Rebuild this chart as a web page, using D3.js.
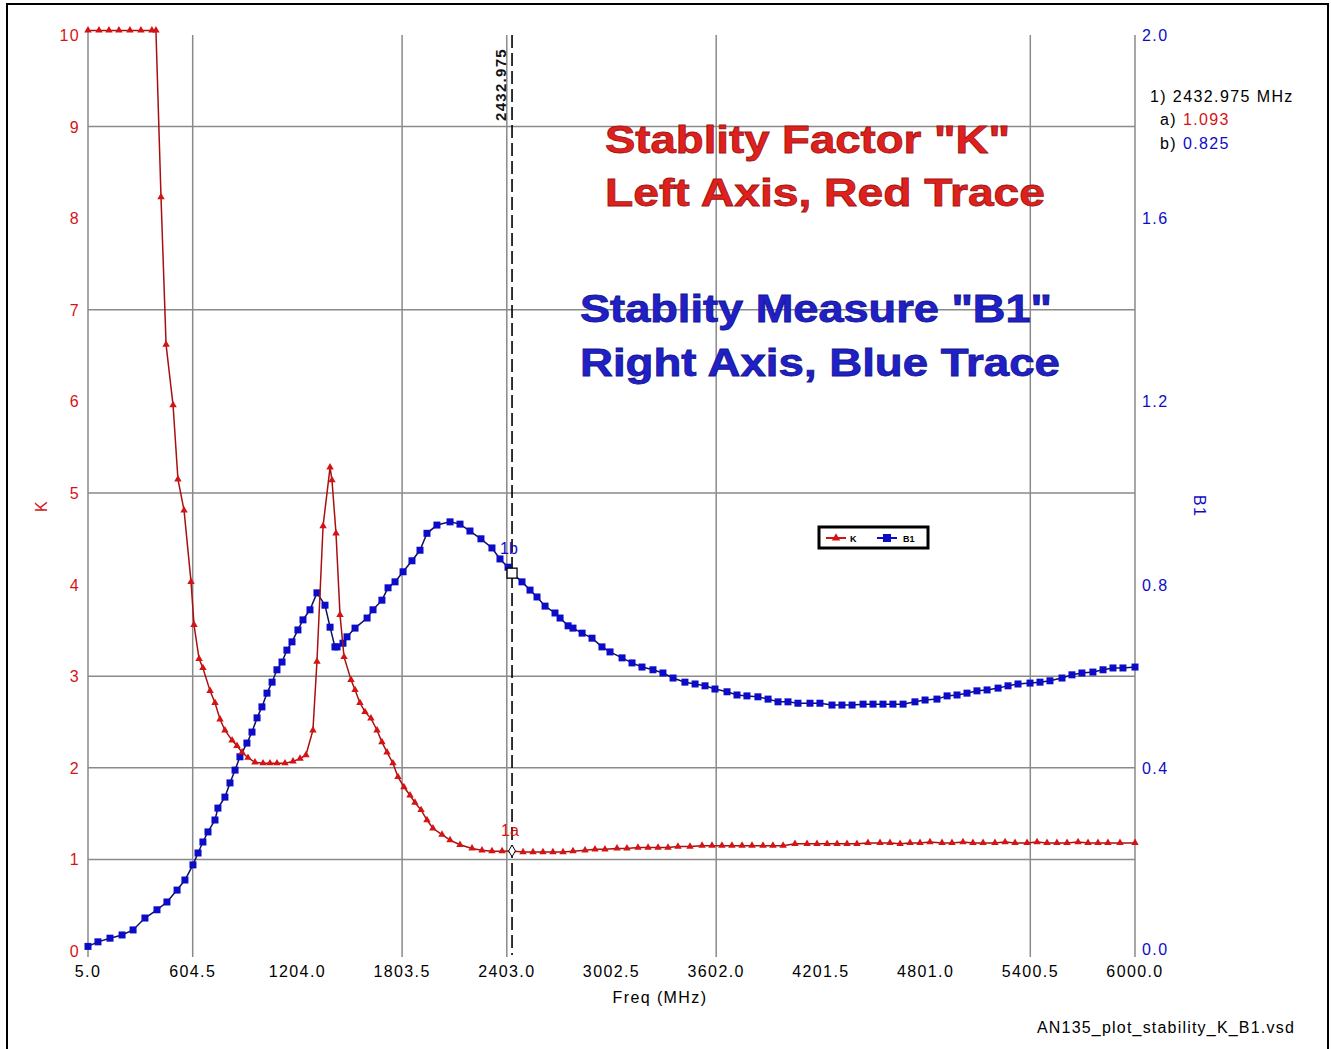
<!DOCTYPE html>
<html>
<head>
<meta charset="utf-8">
<script src="https://cdn.jsdelivr.net/npm/d3@7/dist/d3.min.js"></script>
<style>
  body { margin: 0; background: #fff; }
  svg { display: block; font-family: "Liberation Sans", Arial, sans-serif; }
</style>
</head>
<body>
<div id="chart"></div>
<script>
// x axis ticks (MHz) and which of them show a grid line in the plot
const xTicks = [5.0, 604.5, 1204.0, 1803.5, 2403.0, 3002.5, 3602.0, 4201.5, 4801.0, 5400.5, 6000.0];
const xGrid = [604.5, 1803.5, 2403.0, 3602.0, 5400.5];
const kTicks = [0, 1, 2, 3, 4, 5, 6, 7, 8, 9, 10];
const kGrid = [1, 2, 3, 5, 7, 9];
const b1Ticks = [0.0, 0.4, 0.8, 1.2, 1.6, 2.0];

// stability factor K (left axis, red)
const kFreq = [
  5, 68, 125, 182, 245, 308, 371, 394, 423, 452,
  492, 520, 555, 595, 612, 641, 663, 704, 732, 761,
  789, 830, 858, 887, 921, 961, 1007, 1047, 1087, 1133,
  1179, 1219, 1253, 1293, 1316, 1351, 1391, 1402, 1425, 1448,
  1471, 1511, 1534, 1562, 1591, 1625, 1660, 1688, 1717, 1751,
  1780, 1814, 1849, 1877, 1912, 1946, 1980, 2032, 2078, 2135,
  2204, 2261, 2318, 2376, 2433, 2496, 2553, 2610, 2667, 2725,
  2782, 2851, 2908, 2965, 3034, 3091, 3154, 3212, 3269, 3326,
  3383, 3452, 3521, 3578, 3635, 3692, 3750, 3807, 3870, 3927,
  3985, 4053, 4122, 4179, 4237, 4294, 4351, 4408, 4471, 4540,
  4597, 4655, 4712, 4769, 4826, 4895, 4952, 5015, 5072, 5130,
  5198, 5256, 5313, 5382, 5439, 5496, 5553, 5611, 5674, 5731,
  5788, 5845, 5914, 6000,
];
const kVals = [
  10.05, 10.05, 10.05, 10.05, 10.05, 10.05, 10.05, 10.05, 8.23, 6.62,
  5.96, 5.15, 4.81, 4.03, 3.56, 3.19, 3.09, 2.84, 2.71, 2.53,
  2.41, 2.30, 2.24, 2.17, 2.11, 2.06, 2.05, 2.05, 2.05, 2.05,
  2.07, 2.10, 2.14, 2.41, 3.16, 4.64, 5.28, 5.14, 4.56, 3.67,
  3.21, 2.96, 2.85, 2.71, 2.61, 2.54, 2.41, 2.28, 2.17, 2.05,
  1.90, 1.79, 1.70, 1.62, 1.54, 1.43, 1.34, 1.27, 1.21, 1.16,
  1.12, 1.10, 1.09, 1.09, 1.093, 1.08, 1.08, 1.08, 1.08, 1.08,
  1.09, 1.10, 1.11, 1.11, 1.12, 1.12, 1.13, 1.13, 1.13, 1.13,
  1.14, 1.14, 1.15, 1.15, 1.15, 1.15, 1.15, 1.15, 1.15, 1.15,
  1.15, 1.17, 1.17, 1.17, 1.17, 1.17, 1.17, 1.17, 1.18, 1.18,
  1.18, 1.17, 1.18, 1.18, 1.19, 1.18, 1.18, 1.19, 1.18, 1.18,
  1.18, 1.19, 1.18, 1.18, 1.19, 1.18, 1.18, 1.18, 1.19, 1.18,
  1.18, 1.18, 1.18, 1.18,
];

// stability measure B1 (right axis, blue)
const b1Freq = [
  5, 62, 131, 200, 263, 331, 400, 457, 515, 560,
  606, 635, 663, 692, 732, 749, 789, 818, 847, 875,
  915, 944, 973, 1001, 1030, 1059, 1087, 1116, 1144, 1173,
  1207, 1236, 1276, 1316, 1362, 1391, 1419, 1431, 1465, 1488,
  1534, 1603, 1637, 1688, 1723, 1763, 1809, 1860, 1906, 1946,
  2003, 2078, 2135, 2192, 2255, 2318, 2364, 2410, 2433, 2490,
  2536, 2576, 2622, 2679, 2708, 2754, 2782, 2834, 2891, 2948,
  2994, 3063, 3120, 3177, 3240, 3297, 3355, 3423, 3481, 3538,
  3595, 3664, 3721, 3778, 3841, 3899, 3956, 4013, 4070, 4139,
  4196, 4265, 4322, 4380, 4443, 4500, 4557, 4614, 4672, 4740,
  4798, 4866, 4924, 4981, 5038, 5095, 5153, 5216, 5273, 5330,
  5399, 5456, 5513, 5582, 5639, 5696, 5759, 5817, 5874, 5931,
  6000,
];
const b1Vals = [
  0.010, 0.020, 0.028, 0.035, 0.046, 0.072, 0.090, 0.107, 0.133, 0.155,
  0.188, 0.214, 0.238, 0.260, 0.286, 0.312, 0.336, 0.367, 0.395, 0.424,
  0.454, 0.478, 0.509, 0.533, 0.563, 0.587, 0.614, 0.631, 0.657, 0.675,
  0.701, 0.723, 0.745, 0.782, 0.755, 0.707, 0.664, 0.664, 0.672, 0.686,
  0.705, 0.727, 0.745, 0.766, 0.793, 0.806, 0.828, 0.852, 0.875, 0.912,
  0.930, 0.937, 0.932, 0.917, 0.900, 0.880, 0.856, 0.838, 0.825, 0.806,
  0.788, 0.773, 0.753, 0.738, 0.727, 0.710, 0.705, 0.694, 0.683, 0.664,
  0.653, 0.640, 0.629, 0.620, 0.614, 0.607, 0.596, 0.587, 0.583, 0.579,
  0.572, 0.566, 0.559, 0.557, 0.555, 0.550, 0.544, 0.544, 0.541, 0.541,
  0.541, 0.537, 0.537, 0.537, 0.539, 0.539, 0.539, 0.539, 0.539, 0.544,
  0.548, 0.550, 0.557, 0.559, 0.563, 0.568, 0.570, 0.574, 0.579, 0.583,
  0.585, 0.587, 0.590, 0.596, 0.603, 0.607, 0.609, 0.614, 0.618, 0.618,
  0.620,
];

// marker 1
const markerFreq = 2432.975;
const markerK = 1.093;
const markerB1 = 0.825;

const titles = [
  { text: 'Stablity Factor "K"', color: '#e0201c', x: 605, y: 153, len: 405 },
  { text: 'Left Axis, Red Trace', color: '#e0201c', x: 605, y: 206, len: 440 },
  { text: 'Stablity Measure "B1"', color: '#2020c8', x: 580, y: 322, len: 472 },
  { text: 'Right Axis, Blue Trace', color: '#2020c8', x: 580, y: 376, len: 480 },
];

const width = 1331;
const height = 1049;
const margin = { top: 35, right: 196, bottom: 98, left: 88 };
const red = '#d41414';
const blue = '#0c0cc8';
const ls = '1.4px';

const x = d3.scaleLinear().domain([5, 6000]).range([margin.left, width - margin.right]);
const yK = d3.scaleLinear().domain([0, 10]).range([height - margin.bottom, margin.top]);
const yB = d3.scaleLinear().domain([0, 2]).range([height - margin.bottom, margin.top]);
const x0 = x.range()[0];
const x1 = x.range()[1];
const yBottom = yK(0);
const yTop = yK(10);

const svg = d3.select('#chart').append('svg')
  .attr('width', width)
  .attr('height', height);

svg.append('rect')
  .attr('x', 7).attr('y', 4)
  .attr('width', 1321).attr('height', 1060)
  .attr('fill', '#fff')
  .attr('stroke', '#000')
  .attr('stroke-width', 2);

// grid
svg.append('g').selectAll('line')
  .data(kGrid)
  .enter().append('line')
  .attr('x1', x0).attr('x2', x1)
  .attr('y1', (d) => yK(d)).attr('y2', (d) => yK(d))
  .attr('stroke', '#8a8a8a')
  .attr('stroke-width', 1.5);

svg.append('g').selectAll('line')
  .data(xGrid)
  .enter().append('line')
  .attr('x1', (d) => x(d)).attr('x2', (d) => x(d))
  .attr('y1', yTop).attr('y2', yBottom + 6)
  .attr('stroke', '#8a8a8a')
  .attr('stroke-width', 1.5);

// axis lines
svg.append('line')
  .attr('x1', x0).attr('x2', x0)
  .attr('y1', yTop - 5).attr('y2', yBottom + 6)
  .attr('stroke', '#8a8a8a').attr('stroke-width', 1.5);
svg.append('line')
  .attr('x1', x1).attr('x2', x1)
  .attr('y1', yTop).attr('y2', yBottom + 6)
  .attr('stroke', '#8a8a8a').attr('stroke-width', 1.5);

// tick labels
svg.append('g').selectAll('text')
  .data(xTicks)
  .enter().append('text')
  .attr('x', (d) => x(d))
  .attr('y', yBottom + 26)
  .attr('text-anchor', 'middle')
  .attr('font-size', 16)
  .style('letter-spacing', ls)
  .attr('fill', '#000')
  .text((d) => d.toFixed(1));

svg.append('g').selectAll('text')
  .data(kTicks)
  .enter().append('text')
  .attr('x', x0 - 8)
  .attr('y', (d) => yK(d) + 6)
  .attr('text-anchor', 'end')
  .attr('font-size', 16)
  .style('letter-spacing', ls)
  .attr('fill', red)
  .text((d) => d);

svg.append('g').selectAll('text')
  .data(b1Ticks)
  .enter().append('text')
  .attr('x', x1 + 7)
  .attr('y', (d) => yB(d) + (d === 0 ? 4 : 6))
  .attr('font-size', 16)
  .style('letter-spacing', ls)
  .attr('fill', blue)
  .text((d) => d.toFixed(1));

// axis titles
svg.append('text')
  .attr('transform', `translate(47, ${yK(5) + 19}) rotate(-90)`)
  .attr('font-size', 16)
  .attr('fill', red)
  .text('K');
svg.append('text')
  .attr('transform', `translate(1194, ${yK(5) + 2}) rotate(90)`)
  .attr('font-size', 16)
  .style('letter-spacing', ls)
  .attr('fill', blue)
  .text('B1');
svg.append('text')
  .attr('x', 660).attr('y', 1003)
  .attr('text-anchor', 'middle')
  .attr('font-size', 16)
  .style('letter-spacing', ls)
  .attr('fill', '#000')
  .text('Freq (MHz)');
svg.append('text')
  .attr('x', 1295).attr('y', 1033)
  .attr('text-anchor', 'end')
  .attr('font-size', 16)
  .style('letter-spacing', '1.2px')
  .attr('fill', '#000')
  .text('AN135_plot_stability_K_B1.vsd');

// big annotations
svg.append('g').selectAll('text')
  .data(titles)
  .enter().append('text')
  .attr('x', (d) => d.x)
  .attr('y', (d) => d.y)
  .attr('font-size', 38)
  .attr('font-weight', 'bold')
  .attr('fill', (d) => d.color)
  .attr('stroke', (d) => d3.color(d.color).darker(1))
  .attr('stroke-width', 0.8)
  .attr('textLength', (d) => d.len)
  .attr('lengthAdjust', 'spacingAndGlyphs')
  .text((d) => d.text);

// traces
const kData = kFreq.map((f, i) => ({ f, v: kVals[i] }));
const bData = b1Freq.map((f, i) => ({ f, v: b1Vals[i] }));

svg.append('path')
  .datum(bData)
  .attr('fill', 'none')
  .attr('stroke', '#101060')
  .attr('stroke-width', 1.5)
  .attr('d', d3.line().x((d) => x(d.f)).y((d) => yB(d.v)));

svg.append('g').selectAll('rect')
  .data(bData)
  .enter().append('rect')
  .attr('x', (d) => x(d.f) - 3.5)
  .attr('y', (d) => yB(d.v) - 3.5)
  .attr('width', 7)
  .attr('height', 7)
  .attr('fill', blue);

svg.append('path')
  .datum(kData)
  .attr('fill', 'none')
  .attr('stroke', '#a81010')
  .attr('stroke-width', 1.5)
  .attr('d', d3.line().x((d) => x(d.f)).y((d) => yK(d.v)));

svg.append('g').selectAll('path')
  .data(kData)
  .enter().append('path')
  .attr('transform', (d) => `translate(${x(d.f)}, ${yK(d.v)})`)
  .attr('d', d3.symbol().type(d3.symbolTriangle).size(24))
  .attr('fill', red);

// marker line and readouts
const mx = x(markerFreq);
svg.append('line')
  .attr('x1', mx).attr('x2', mx)
  .attr('y1', yTop).attr('y2', yBottom + 4)
  .attr('stroke', '#000')
  .attr('stroke-width', 1.6)
  .attr('stroke-dasharray', '13,5');

svg.append('text')
  .attr('transform', `translate(${mx - 6}, 121) rotate(-90)`)
  .attr('font-size', 15)
  .attr('font-weight', 'bold')
  .style('letter-spacing', '1.3px')
  .attr('fill', '#111')
  .text(markerFreq.toFixed(3));

svg.append('rect')
  .attr('x', mx - 5).attr('y', yB(markerB1) - 5)
  .attr('width', 10).attr('height', 10)
  .attr('fill', '#fff')
  .attr('stroke', '#000')
  .attr('stroke-width', 1.3);
svg.append('text')
  .attr('x', mx - 12).attr('y', yB(markerB1) - 19)
  .attr('font-size', 16)
  .attr('fill', blue)
  .text('1b');

svg.append('path')
  .attr('transform', `translate(${mx}, ${yK(markerK)})`)
  .attr('d', d3.symbol().type(d3.symbolDiamond).size(40))
  .attr('fill', '#fff')
  .attr('stroke', '#000')
  .attr('stroke-width', 1);
svg.append('text')
  .attr('x', mx - 11).attr('y', yK(markerK) - 15)
  .attr('font-size', 16)
  .attr('fill', red)
  .text('1a');

const readout = svg.append('g')
  .attr('font-size', 16)
  .style('letter-spacing', '1.4px')
  .attr('fill', '#000');
readout.append('text').attr('x', 1150).attr('y', 102)
  .text(`1)  ${markerFreq.toFixed(3)} MHz`);
const ra = readout.append('text').attr('x', 1160).attr('y', 125);
ra.append('tspan').text('a) ');
ra.append('tspan').attr('fill', red).text(markerK.toFixed(3));
const rb = readout.append('text').attr('x', 1160).attr('y', 149);
rb.append('tspan').text('b) ');
rb.append('tspan').attr('fill', blue).text(markerB1.toFixed(3));

// legend
const lg = svg.append('g').attr('transform', 'translate(819, 527)');
lg.append('rect')
  .attr('width', 109).attr('height', 21)
  .attr('fill', '#fff')
  .attr('stroke', '#000')
  .attr('stroke-width', 3);
lg.append('line').attr('x1', 7).attr('x2', 27).attr('y1', 11).attr('y2', 11)
  .attr('stroke', red).attr('stroke-width', 2);
lg.append('path').attr('transform', 'translate(17, 11)')
  .attr('d', d3.symbol().type(d3.symbolTriangle).size(30))
  .attr('fill', red);
lg.append('text').attr('x', 31).attr('y', 15).attr('font-size', 9).attr('font-weight', 'bold').text('K');
lg.append('line').attr('x1', 58).attr('x2', 78).attr('y1', 11).attr('y2', 11)
  .attr('stroke', blue).attr('stroke-width', 2);
lg.append('rect').attr('x', 64).attr('y', 7).attr('width', 8).attr('height', 8)
  .attr('fill', blue);
lg.append('text').attr('x', 84).attr('y', 15).attr('font-size', 9).attr('font-weight', 'bold').text('B1');
</script>
</body>
</html>
